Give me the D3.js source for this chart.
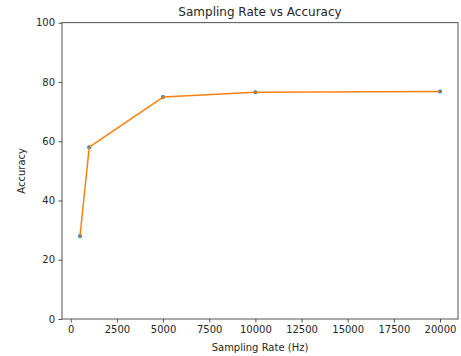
<!DOCTYPE html>
<html>
<head>
<meta charset="utf-8">
<script src="https://cdn.jsdelivr.net/npm/d3@7"></script>
<style>
  body { margin: 0; background: #fff; }
  text { font-family: "DejaVu Sans", sans-serif; fill: #262626; }
</style>
</head>
<body>
<div id="chart"></div>
<script>
// values
const rates = [500, 1000, 5000, 10000, 20000];
const accuracy = [28.0, 58.0, 74.9, 76.5, 76.8];
const xTicks = [0, 2500, 5000, 7500, 10000, 12500, 15000, 17500, 20000];
const yTicks = [0, 20, 40, 60, 80, 100];

const width = 461;
const height = 356;
const margin = { top: 22.7, right: 3, bottom: 37, left: 62 };
const innerW = width - margin.left - margin.right;
const innerH = height - margin.top - margin.bottom;

const svg = d3.select('#chart').append('svg')
  .attr('width', width).attr('height', height);

const pad = (20000 - 500) * 0.05;
const x = d3.scaleLinear().domain([500 - pad, 20000 + pad]).range([0, innerW]);
const y = d3.scaleLinear().domain([0, 100]).range([innerH, 0]);

const g = svg.append('g').attr('transform', `translate(${margin.left},${margin.top})`);

const xAxis = g.append('g').attr('transform', `translate(0,${innerH})`)
  .call(d3.axisBottom(x).tickValues(xTicks).tickSize(3.5).tickPadding(3.5).tickFormat(d3.format('d')));
const yAxis = g.append('g')
  .call(d3.axisLeft(y).tickValues(yTicks).tickSize(3.5).tickPadding(3.5));

[xAxis, yAxis].forEach(a => {
  a.select('.domain').remove();
  a.selectAll('line').attr('stroke', '#262626').attr('stroke-width', 0.8);
  a.selectAll('text').style('font-size', '10px').style('font-family', '"DejaVu Sans", sans-serif').attr('fill', '#262626');
});

// frame
g.append('rect').attr('width', innerW).attr('height', innerH)
  .attr('fill', 'none').attr('stroke', '#262626').attr('stroke-width', 0.8);

const pts = rates.map((r, i) => ({ r, a: accuracy[i] }));

g.selectAll('circle.pt').data(pts).enter().append('circle')
  .attr('class', 'pt')
  .attr('cx', d => x(d.r)).attr('cy', d => y(d.a)).attr('r', 2)
  .attr('fill', '#1f77b4');

const line = d3.line().x(d => x(d.r)).y(d => y(d.a));
g.append('path').datum(pts).attr('d', line)
  .attr('fill', 'none').attr('stroke', '#ff7f0e').attr('stroke-width', 1.5)
  .attr('stroke-linejoin', 'round').attr('stroke-linecap', 'square');

// title and labels
svg.append('text').attr('x', margin.left + innerW / 2).attr('y', 16)
  .attr('text-anchor', 'middle').style('font-size', '12px').text('Sampling Rate vs Accuracy');
svg.append('text').attr('x', margin.left + innerW / 2).attr('y', 351)
  .attr('text-anchor', 'middle').style('font-size', '10px').text('Sampling Rate (Hz)');
svg.append('text')
  .attr('transform', `translate(25,${margin.top + innerH / 2}) rotate(-90)`)
  .attr('text-anchor', 'middle').style('font-size', '10px').text('Accuracy');
</script>
</body>
</html>
